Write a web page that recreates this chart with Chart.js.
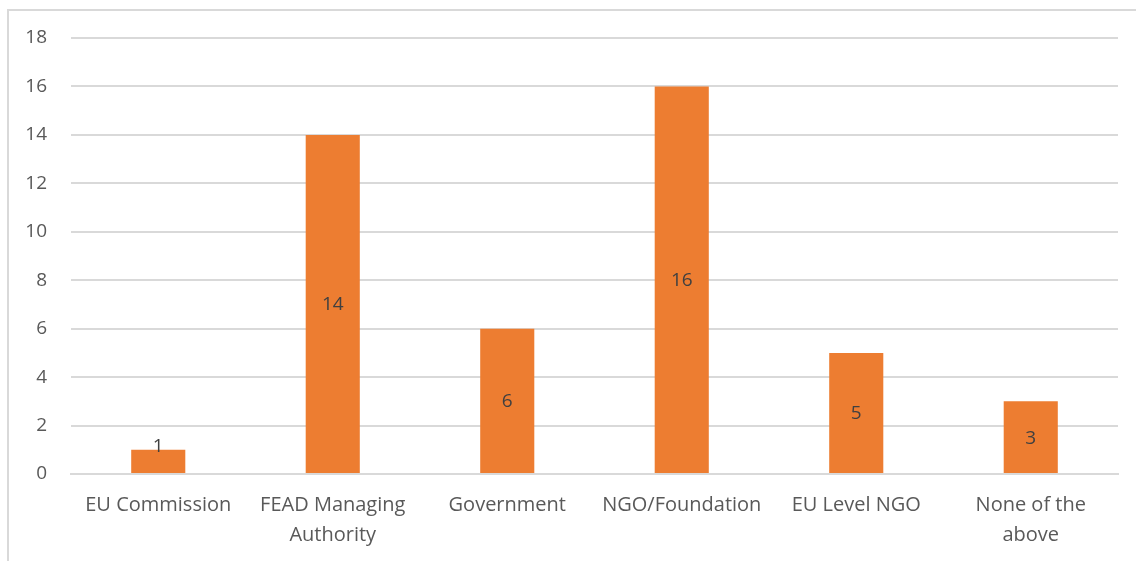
<!DOCTYPE html>
<html>
<head>
<meta charset="utf-8">
<script src="https://cdn.jsdelivr.net/npm/chart.js@4/dist/chart.umd.min.js"></script>
<style>
  html, body { margin: 0; padding: 0; background: #fff; overflow: hidden; }
  #wrap { position: relative; width: 1136px; height: 561px; }
  #frame { position: absolute; left: 7px; top: 9px; width: 1140px; height: 600px; border: 2px solid #d9d9d9; box-sizing: border-box; }
  canvas { position: absolute; left: 0; top: 0; }
</style>
</head>
<body>
<div id="wrap">
  <div id="frame"></div>
  <canvas id="c" width="1136" height="561"></canvas>
</div>
<script>
const categories = [
  "EU Commission",
  ["FEAD Managing", "Authority"],
  "Government",
  "NGO/Foundation",
  "EU Level NGO",
  ["None of the", "above"]
];
const counts = [1, 14, 6, 16, 5, 3];
const yMin = 0, yMax = 18, yStep = 2;

const FONT = "'Open Sans', 'Liberation Sans', sans-serif";
const TEXT = '#595959';

const barLabels = {
  id: 'barLabels',
  afterDatasetsDraw(chart) {
    const ctx = chart.ctx;
    const meta = chart.getDatasetMeta(0);
    ctx.save();
    ctx.font = "19px " + FONT;
    ctx.fillStyle = '#404040';
    ctx.textAlign = 'center';
    ctx.textBaseline = 'middle';
    meta.data.forEach((bar, i) => {
      const p = bar.getProps(['x', 'y', 'base'], true);
      let y = (p.y + p.base) / 2;
      y = Math.min(y, p.base - 27);
      ctx.fillText(String(counts[i]), p.x, y + 1);
    });
    ctx.restore();
  }
};

new Chart(document.getElementById('c'), {
  type: 'bar',
  data: {
    labels: categories,
    datasets: [{
      data: counts,
      backgroundColor: '#ED7D31',
      borderWidth: 0,
      barPercentage: 0.62,
      categoryPercentage: 0.5
    }]
  },
  options: {
    responsive: false,
    animation: false,
    layout: { padding: { left: 0, right: 18, top: 38, bottom: 0 } },
    plugins: { legend: { display: false }, tooltip: { enabled: false } },
    scales: {
      x: {
        grid: { display: false, drawTicks: false },
        border: { display: true, color: '#d9d9d9', width: 2 },
        ticks: { color: TEXT, font: { family: FONT, size: 20, lineHeight: 1.5 }, padding: 16, maxRotation: 0, autoSkip: false },
        afterFit(s) { s.height = 87; }
      },
      y: {
        min: yMin, max: yMax,
        grid: { color: '#d9d9d9', lineWidth: 2, drawTicks: false },
        border: { display: false },
        ticks: { stepSize: yStep, color: TEXT, font: { family: FONT, size: 19 }, padding: 24 },
        afterFit(s) { s.width = 71; }
      }
    }
  },
  plugins: [barLabels]
});
</script>
</body>
</html>
